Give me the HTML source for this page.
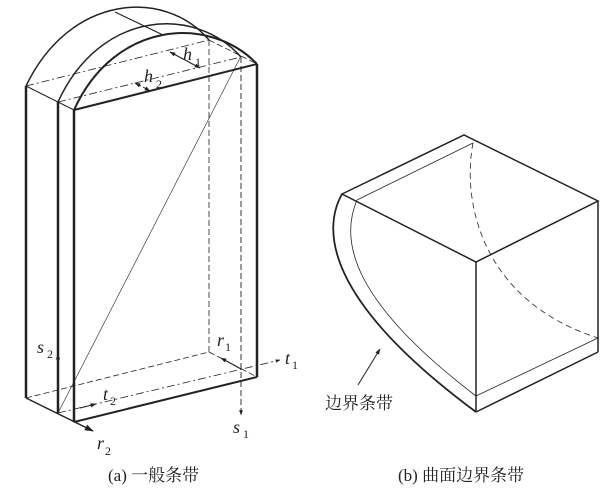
<!DOCTYPE html>
<html><head><meta charset="utf-8"><style>
html,body{margin:0;padding:0;background:#fff;}
svg{display:block;}
text{font-family:"Liberation Serif","Noto Serif CJK SC",serif;fill:#222;}
</style></head><body>
<svg width="615" height="494" viewBox="0 0 615 494" xmlns="http://www.w3.org/2000/svg">
<defs>
<marker id="ar" viewBox="0 0 10 10" refX="9" refY="5" markerWidth="6" markerHeight="6" orient="auto"><path d="M0,1.5 L10,5 L0,8.5 z" fill="#222"/></marker>
</defs>
<g stroke="#222" fill="none">
<line x1="26" y1="86" x2="26" y2="398" stroke-width="2.5"/>
<line x1="58" y1="102" x2="58" y2="413" stroke-width="2.5"/>
<line x1="74" y1="110" x2="74" y2="422" stroke-width="2.5"/>
<line x1="257" y1="64" x2="257" y2="377" stroke-width="2.5"/>
<line x1="74" y1="110" x2="257" y2="64" stroke-width="2"/>
<line x1="26" y1="86" x2="58" y2="102" stroke-width="1"/>
<line x1="58" y1="102" x2="74" y2="110" stroke-width="1"/>
<line x1="26" y1="86" x2="209" y2="40" stroke-width="0.8" stroke-dasharray="8,3,2,3"/>
<line x1="58" y1="102" x2="241" y2="57" stroke-width="0.8" stroke-dasharray="8,3,2,3"/>
<line x1="209" y1="40" x2="257" y2="64" stroke-width="0.8" stroke-dasharray="6,3"/>
<line x1="209" y1="40" x2="209" y2="352" stroke-width="0.8" stroke-dasharray="6,3"/>
<line x1="241" y1="57" x2="241" y2="415" stroke-width="0.9" stroke-dasharray="6,3" marker-end="url(#ar)"/>
<path d="M26,86 C70,-6 165,-12 209,40" stroke-width="1.5"/>
<path d="M58,102 C100,10 195,5 241,57" stroke-width="1.5"/>
<path d="M74,110 C115,20 210,15 257,64" stroke-width="2"/>
<line x1="115" y1="12" x2="163" y2="35" stroke-width="1.2"/>
<line x1="58" y1="413" x2="240" y2="58" stroke-width="0.6"/>
<line x1="26" y1="398" x2="209" y2="352" stroke-width="0.8" stroke-dasharray="6,3"/>
<line x1="58" y1="413" x2="280" y2="360" stroke-width="0.8" stroke-dasharray="8,3,2,3" marker-end="url(#ar)"/>
<line x1="74" y1="422" x2="257" y2="377" stroke-width="2"/>
<line x1="26" y1="398" x2="93" y2="431" stroke-width="1.5" marker-end="url(#ar)"/>
<line x1="209" y1="352" x2="257" y2="377" stroke-width="0.8" stroke-dasharray="6,3"/>
<line x1="241" y1="369" x2="221" y2="358" stroke-width="1" marker-end="url(#ar)"/>
<line x1="58" y1="365" x2="58" y2="354" stroke-width="1" marker-end="url(#ar)"/>
<line x1="80" y1="408" x2="96" y2="404" stroke-width="1" marker-end="url(#ar)"/>
<line x1="185" y1="60" x2="170" y2="52" stroke-width="1" marker-end="url(#ar)"/>
<line x1="185" y1="60" x2="200" y2="68" stroke-width="1" marker-end="url(#ar)"/>
<line x1="141" y1="86" x2="135" y2="83" stroke-width="1" marker-end="url(#ar)"/>
<line x1="143" y1="87" x2="150" y2="91" stroke-width="1" marker-end="url(#ar)"/>

<path d="M342,194 L464,135 L598,201 L476,262 Z" stroke-width="1.5"/>
<line x1="476" y1="262" x2="476" y2="412" stroke-width="1.5"/>
<line x1="598" y1="201" x2="598" y2="352" stroke-width="1.5"/>
<line x1="476" y1="412" x2="598" y2="352" stroke-width="1.5"/>
<path d="M342,194 C322,230 325,300 476,412" stroke-width="1.8"/>
<path d="M357,200 C340,240 350,300 476,396" stroke-width="0.8"/>
<line x1="357" y1="200" x2="473" y2="143" stroke-width="0.8"/>
<line x1="476" y1="396" x2="598" y2="338" stroke-width="0.8"/>
<path d="M473,143 C462,200 480,300 598,338" stroke-width="0.8" stroke-dasharray="6,4"/>
<line x1="358" y1="385" x2="380" y2="349" stroke-width="1" marker-end="url(#ar)"/>
</g>
<g font-style="italic" font-size="18">
<text x="183" y="60">h</text><text x="195" y="66" font-size="12" font-style="normal">1</text>
<text x="144" y="82">h</text><text x="156" y="88" font-size="12" font-style="normal">2</text>
<text x="37" y="353">s</text><text x="47" y="358" font-size="12" font-style="normal">2</text>
<text x="103" y="400">t</text><text x="110" y="405" font-size="12" font-style="normal">2</text>
<text x="217" y="346">r</text><text x="225" y="351" font-size="12" font-style="normal">1</text>
<text x="285" y="364">t</text><text x="292" y="369" font-size="12" font-style="normal">1</text>
<text x="233" y="433">s</text><text x="243" y="438" font-size="12" font-style="normal">1</text>
<text x="97" y="449">r</text><text x="105" y="455" font-size="12" font-style="normal">2</text>
</g>
<text x="108" y="481" font-size="17">(a) 一般条带</text>
<text x="398" y="481" font-size="17">(b) 曲面边界条带</text>
<text x="325" y="409" font-size="17">边界条带</text>
</svg>
</body></html>
